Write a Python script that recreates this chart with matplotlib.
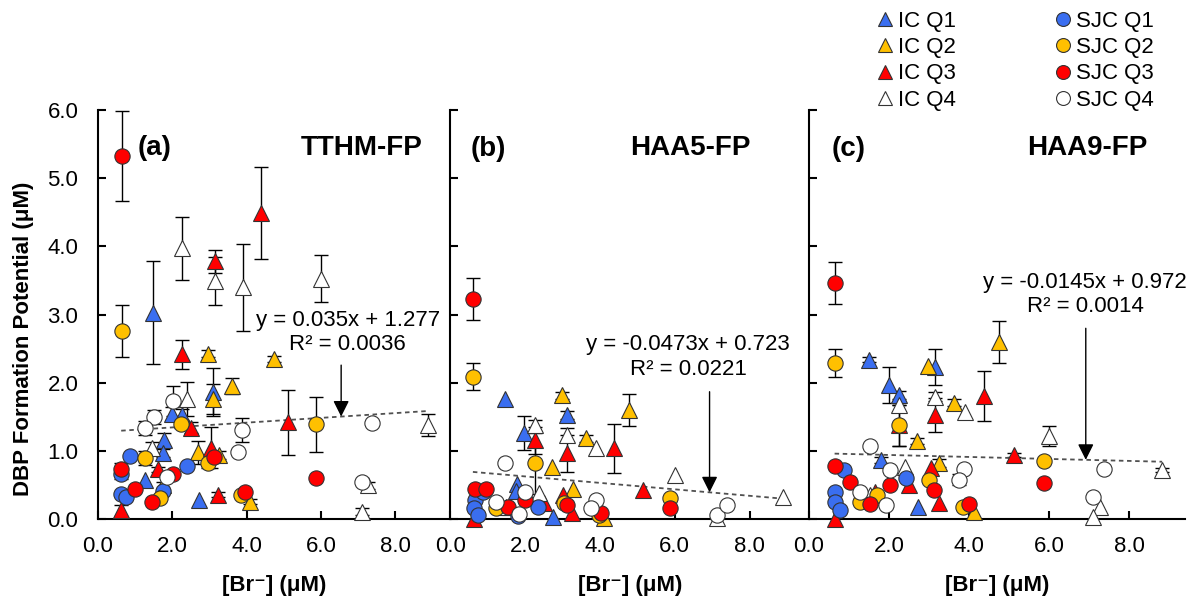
import numpy as np
from matplotlib import pyplot as plt
from matplotlib.lines import Line2D

plt.rcParams['font.family'] = ['Liberation Sans', 'DejaVu Sans']

series = ['IC Q1', 'IC Q2', 'IC Q3', 'IC Q4', 'SJC Q1', 'SJC Q2', 'SJC Q3', 'SJC Q4']
colors = {
	'IC Q1': '#3A6EF0', 'IC Q2': '#FFC000', 'IC Q3': '#FF0000', 'IC Q4': 'white',
	'SJC Q1': '#3A6EF0', 'SJC Q2': '#FFC000', 'SJC Q3': '#FF0000', 'SJC Q4': 'white',
}

# (series, [Br-] uM, formation potential uM, std)
tthm = [
	('IC Q1', 1.48, 3.03, 0.75), ('IC Q1', 1.99, 1.55, 0.10), ('IC Q1', 2.27, 1.53, 0.08),
	('IC Q1', 1.79, 1.16, 0.10), ('IC Q1', 1.76, 0.97, 0.06), ('IC Q1', 1.27, 0.58, 0.0),
	('IC Q1', 2.72, 0.29, 0.0), ('IC Q1', 3.11, 1.87, 0.35),
	('IC Q2', 2.97, 2.43, 0.05), ('IC Q2', 4.74, 2.35, 0.04), ('IC Q2', 3.11, 1.77, 0.22),
	('IC Q2', 3.62, 1.95, 0.12), ('IC Q2', 2.69, 0.98, 0.17), ('IC Q2', 3.26, 0.94, 0.06),
	('IC Q2', 1.76, 0.50, 0.05), ('IC Q2', 4.09, 0.26, 0.04),
	('IC Q3', 3.14, 3.78, 0.17), ('IC Q3', 4.38, 4.49, 0.67), ('IC Q3', 2.26, 2.42, 0.21),
	('IC Q3', 2.51, 1.34, 0.08), ('IC Q3', 5.10, 1.42, 0.48), ('IC Q3', 3.05, 1.05, 0.30),
	('IC Q3', 1.61, 0.73, 0.04), ('IC Q3', 3.23, 0.36, 0.04), ('IC Q3', 0.63, 0.13, 0.08),
	('IC Q4', 2.26, 3.97, 0.46), ('IC Q4', 3.14, 3.49, 0.35), ('IC Q4', 3.90, 3.40, 0.64),
	('IC Q4', 5.99, 3.53, 0.34), ('IC Q4', 2.39, 1.76, 0.25), ('IC Q4', 1.47, 1.04, 0.10),
	('IC Q4', 8.87, 1.38, 0.16), ('IC Q4', 7.27, 0.50, 0.05), ('IC Q4', 7.11, 0.11, 0.05),
	('SJC Q1', 0.63, 0.67, 0.08), ('SJC Q1', 0.63, 0.37, 0.0), ('SJC Q1', 0.75, 0.32, 0.0),
	('SJC Q1', 0.87, 0.93, 0.0), ('SJC Q1', 1.76, 0.42, 0.0), ('SJC Q1', 2.39, 0.78, 0.0),
	('SJC Q2', 0.64, 2.76, 0.38), ('SJC Q2', 1.27, 0.90, 0.10), ('SJC Q2', 1.66, 0.31, 0.0),
	('SJC Q2', 2.24, 1.39, 0.05), ('SJC Q2', 2.97, 0.83, 0.08), ('SJC Q2', 3.85, 0.36, 0.0),
	('SJC Q2', 5.87, 1.39, 0.41),
	('SJC Q3', 0.64, 5.32, 0.66), ('SJC Q3', 0.63, 0.73, 0.10), ('SJC Q3', 1.00, 0.45, 0.0),
	('SJC Q3', 1.47, 0.26, 0.0), ('SJC Q3', 2.02, 0.66, 0.0), ('SJC Q3', 3.12, 0.91, 0.0),
	('SJC Q3', 3.96, 0.40, 0.0), ('SJC Q3', 5.87, 0.61, 0.0),
	('SJC Q4', 2.01, 1.74, 0.22), ('SJC Q4', 1.50, 1.50, 0.10), ('SJC Q4', 1.26, 1.34, 0.10),
	('SJC Q4', 3.88, 1.31, 0.18), ('SJC Q4', 3.76, 0.98, 0.0), ('SJC Q4', 1.87, 0.62, 0.0),
	('SJC Q4', 7.37, 1.41, 0.0), ('SJC Q4', 7.11, 0.55, 0.0),
]

haa5 = [
	('IC Q1', 1.47, 1.77, 0.0), ('IC Q1', 1.98, 1.26, 0.25), ('IC Q1', 1.79, 0.52, 0.0),
	('IC Q1', 1.76, 0.42, 0.0), ('IC Q1', 3.11, 1.53, 0.06), ('IC Q1', 2.73, 0.04, 0.0),
	('IC Q2', 2.99, 1.82, 0.05), ('IC Q2', 4.78, 1.60, 0.23), ('IC Q2', 3.62, 1.19, 0.05),
	('IC Q2', 2.72, 0.77, 0.0), ('IC Q2', 3.27, 0.45, 0.0), ('IC Q2', 4.11, 0.02, 0.0),
	('IC Q3', 2.25, 1.16, 0.20), ('IC Q3', 4.38, 1.04, 0.36), ('IC Q3', 3.11, 0.97, 0.27),
	('IC Q3', 5.14, 0.43, 0.0), ('IC Q3', 2.51, 0.24, 0.0), ('IC Q3', 3.00, 0.36, 0.0),
	('IC Q3', 3.25, 0.09, 0.0), ('IC Q3', 0.64, 0.0, 0.0), ('IC Q3', 1.60, 0.18, 0.0),
	('IC Q4', 2.25, 1.38, 0.08), ('IC Q4', 3.11, 1.24, 0.10), ('IC Q4', 3.89, 1.04, 0.0),
	('IC Q4', 6.01, 0.65, 0.0), ('IC Q4', 8.89, 0.33, 0.0), ('IC Q4', 7.14, 0.02, 0.0),
	('IC Q4', 1.49, 0.18, 0.0), ('IC Q4', 2.36, 0.38, 0.0),
	('SJC Q1', 0.65, 0.28, 0.0), ('SJC Q1', 0.62, 0.16, 0.0), ('SJC Q1', 0.75, 0.07, 0.0),
	('SJC Q1', 0.87, 0.40, 0.0), ('SJC Q1', 1.80, 0.05, 0.0), ('SJC Q1', 2.33, 0.18, 0.0),
	('SJC Q2', 0.60, 2.09, 0.20), ('SJC Q2', 2.25, 0.82, 0.45), ('SJC Q2', 1.22, 0.16, 0.0),
	('SJC Q2', 3.04, 0.24, 0.0), ('SJC Q2', 3.96, 0.06, 0.0), ('SJC Q2', 5.87, 0.31, 0.0),
	('SJC Q3', 0.60, 3.23, 0.31), ('SJC Q3', 0.65, 0.45, 0.0), ('SJC Q3', 0.96, 0.45, 0.0),
	('SJC Q3', 1.53, 0.18, 0.0), ('SJC Q3', 2.00, 0.28, 0.0), ('SJC Q3', 3.11, 0.21, 0.0),
	('SJC Q3', 4.02, 0.09, 0.0), ('SJC Q3', 5.87, 0.16, 0.0),
	('SJC Q4', 1.47, 0.82, 0.0), ('SJC Q4', 1.22, 0.26, 0.0), ('SJC Q4', 1.83, 0.08, 0.0),
	('SJC Q4', 2.00, 0.40, 0.0), ('SJC Q4', 3.89, 0.28, 0.0), ('SJC Q4', 3.76, 0.16, 0.0),
	('SJC Q4', 7.14, 0.07, 0.0), ('SJC Q4', 7.40, 0.21, 0.0),
]

haa9 = [
	('IC Q1', 1.51, 2.34, 0.04), ('IC Q1', 3.15, 2.23, 0.26), ('IC Q1', 2.01, 1.97, 0.26),
	('IC Q1', 2.24, 1.82, 0.06), ('IC Q1', 1.80, 0.87, 0.05), ('IC Q1', 2.73, 0.18, 0.0),
	('IC Q2', 2.97, 2.25, 0.0), ('IC Q2', 4.76, 2.60, 0.31), ('IC Q2', 3.63, 1.71, 0.05),
	('IC Q2', 2.70, 1.15, 0.04), ('IC Q2', 3.26, 0.82, 0.06), ('IC Q2', 4.12, 0.11, 0.0),
	('IC Q2', 1.76, 0.33, 0.0),
	('IC Q3', 3.15, 1.53, 0.25), ('IC Q3', 4.37, 1.81, 0.37), ('IC Q3', 2.26, 1.38, 0.30),
	('IC Q3', 5.13, 0.94, 0.03), ('IC Q3', 2.50, 0.50, 0.0), ('IC Q3', 3.05, 0.75, 0.0),
	('IC Q3', 3.25, 0.24, 0.0), ('IC Q3', 1.64, 0.40, 0.0), ('IC Q3', 0.64, 0.0, 0.0),
	('IC Q4', 2.24, 1.68, 0.0), ('IC Q4', 3.15, 1.80, 0.06), ('IC Q4', 3.90, 1.58, 0.0),
	('IC Q4', 6.01, 1.22, 0.15), ('IC Q4', 8.83, 0.72, 0.03), ('IC Q4', 7.27, 0.18, 0.0),
	('IC Q4', 7.11, 0.04, 0.0), ('IC Q4', 2.41, 0.76, 0.0), ('IC Q4', 1.53, 0.36, 0.0),
	('SJC Q1', 0.88, 0.72, 0.0), ('SJC Q1', 0.65, 0.40, 0.0), ('SJC Q1', 0.65, 0.26, 0.0),
	('SJC Q1', 0.78, 0.13, 0.0), ('SJC Q1', 2.43, 0.60, 0.0),
	('SJC Q2', 0.66, 2.29, 0.20), ('SJC Q2', 2.26, 1.38, 0.30), ('SJC Q2', 1.28, 0.26, 0.0),
	('SJC Q2', 1.70, 0.36, 0.0), ('SJC Q2', 3.00, 0.58, 0.0), ('SJC Q2', 3.84, 0.18, 0.0),
	('SJC Q2', 5.88, 0.86, 0.0),
	('SJC Q3', 0.66, 3.46, 0.31), ('SJC Q3', 0.65, 0.78, 0.0), ('SJC Q3', 1.03, 0.55, 0.0),
	('SJC Q3', 1.53, 0.23, 0.0), ('SJC Q3', 2.03, 0.50, 0.0), ('SJC Q3', 3.13, 0.43, 0.0),
	('SJC Q3', 4.01, 0.23, 0.0), ('SJC Q3', 5.88, 0.53, 0.0),
	('SJC Q4', 1.52, 1.07, 0.0), ('SJC Q4', 1.28, 0.40, 0.0), ('SJC Q4', 2.03, 0.72, 0.0),
	('SJC Q4', 1.93, 0.21, 0.0), ('SJC Q4', 3.88, 0.73, 0.0), ('SJC Q4', 3.76, 0.58, 0.08),
	('SJC Q4', 7.37, 0.73, 0.0), ('SJC Q4', 7.09, 0.33, 0.0),
]

panel_data = [tthm, haa5, haa9]
panel_tags = ['(a)', '(b)', '(c)']
panel_names = ['TTHM-FP', 'HAA5-FP', 'HAA9-FP']

# linear fits over all points in each panel
fit_slope = [0.035, -0.0473, -0.0145]
fit_icpt = [1.277, 0.723, 0.972]
fit_r2 = [0.0036, 0.0221, 0.0014]

## PLOT
fig = plt.figure(figsize=(11.92, 5.96), dpi=100)

bottom = 0.1287
height = 0.6867
boxes = [
	(0.0820, 0.2960, 9.48),
	(0.3779, 0.3008, 9.59),
	(0.6787, 0.3154, 9.40),
]
# label positions in data units
tag_pos = [(1.54, 5.45), (1.0, 5.43), (1.0, 5.43)]
name_pos = [(7.1, 5.44), (6.43, 5.44), (6.95, 5.44)]
eq_pos = [(6.72, 2.92, 2.56), (6.36, 2.56, 2.19), (6.9, 3.47, 3.12)]
arrow_x = [6.54, 6.93, 6.92]
arrow_top = [2.26, 1.87, 2.80]

axes = []
for p in range(3):
	left, width, xmax = boxes[p]
	ax = fig.add_axes([left, bottom, width, height])
	axes.append(ax)
	rows = panel_data[p]

	# error bars first, markers on top
	for s in series:
		pts = [r for r in rows if r[0] == s and r[3] > 0]
		if pts:
			ax.errorbar([r[1] for r in pts], [r[2] for r in pts], yerr=[r[3] for r in pts],
				fmt='none', ecolor='black', elinewidth=1, capsize=5, capthick=1,
				zorder=2, clip_on=False)
	for s in series:
		pts = [r for r in rows if r[0] == s]
		mk = '^' if s.startswith('IC') else 'o'
		ms = 12 if mk == '^' else 11
		ax.plot([r[1] for r in pts], [r[2] for r in pts], linestyle='none', marker=mk,
			markersize=ms, markerfacecolor=colors[s], markeredgecolor='#333333',
			markeredgewidth=0.8, zorder=3, clip_on=False)

	# trend line
	xs = np.array([r[1] for r in rows])
	xl = np.array([xs.min(), xs.max()])
	ax.plot(xl, fit_slope[p]*xl + fit_icpt[p], color='#505050', linestyle=(0, (2.5, 2)),
		linewidth=1.3, zorder=2.5)

	ex, ey1, ey2 = eq_pos[p]
	ax.text(ex, ey1, 'y = %gx + %g' % (fit_slope[p], fit_icpt[p]), ha='center', va='center',
		fontsize=16)
	ax.text(ex, ey2, 'R² = %.4f' % fit_r2[p], ha='center', va='center', fontsize=16)
	ax_ = arrow_x[p]
	ax.annotate('', xy=(ax_, fit_slope[p]*ax_ + fit_icpt[p]), xytext=(ax_, arrow_top[p]),
		arrowprops=dict(arrowstyle='-|>,head_length=0.6,head_width=0.3', mutation_scale=16,
			color='black', lw=1, shrinkA=0, shrinkB=0))

	ax.text(tag_pos[p][0], tag_pos[p][1], panel_tags[p], ha='center', va='center',
		fontsize=20, fontweight='bold')
	ax.text(name_pos[p][0], name_pos[p][1], panel_names[p], ha='center', va='center',
		fontsize=20, fontweight='bold')

	ax.set_xlim(0, xmax)
	ax.set_ylim(0, 6)
	ax.set_xticks([0, 2, 4, 6, 8])
	ax.set_xticklabels(['0.0', '2.0', '4.0', '6.0', '8.0'])
	ax.set_yticks([0, 1, 2, 3, 4, 5, 6])
	ax.spines['top'].set_visible(False)
	ax.spines['right'].set_visible(False)
	for sp in ['left', 'bottom']:
		ax.spines[sp].set_linewidth(1.5)
	ax.tick_params(axis='x', direction='in', length=6, width=1.5, labelsize=16, pad=12)
	ax.tick_params(axis='y', direction='in', length=6, width=1.5, labelsize=16, pad=14)
	if p == 0:
		ax.set_yticklabels(['0.0', '1.0', '2.0', '3.0', '4.0', '5.0', '6.0'])
	else:
		ax.set_yticklabels([])
	ax.text(0.5, -0.162, '[Br⁻] (μM)', transform=ax.transAxes, ha='center', va='center',
		fontsize=16, fontweight='bold')

# y title beside the first panel
fig.text(0.020, 0.432, 'DBP Formation Potential (μM)', rotation=90,
	ha='center', va='center', fontsize=16, fontweight='bold')

handles = []
for s in series:
	mk = '^' if s.startswith('IC') else 'o'
	handles.append(Line2D([], [], linestyle='none', marker=mk, markersize=10,
		markerfacecolor=colors[s], markeredgecolor='#333333', markeredgewidth=0.8))
fig.legend(handles, series, ncol=2, loc='upper left', bbox_to_anchor=(0.735, 0.982),
	frameon=False, fontsize=16, handlelength=0.8, handletextpad=0.2, columnspacing=4.4,
	labelspacing=0.24, borderpad=0, borderaxespad=0)

plt.savefig('out.png', dpi=100)
